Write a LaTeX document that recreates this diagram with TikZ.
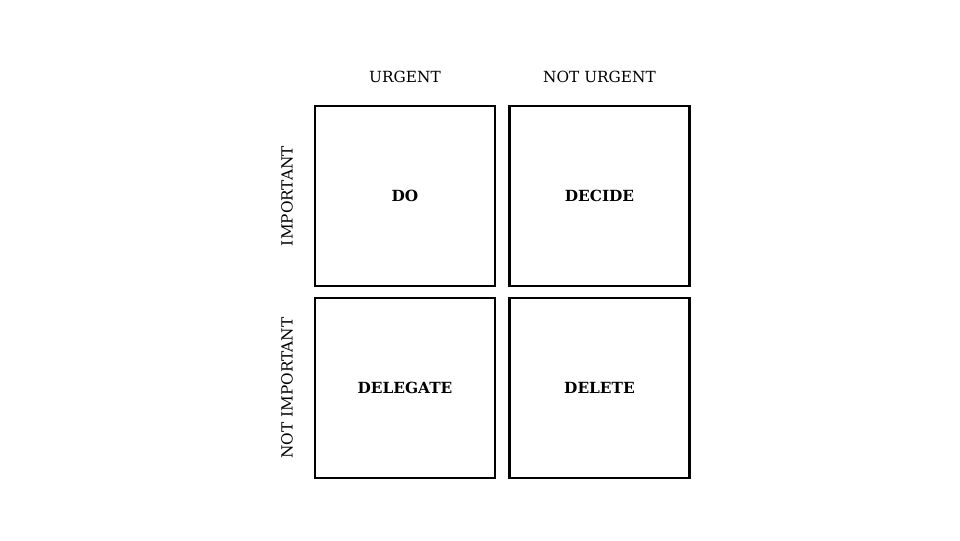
\documentclass[tikz,border=0pt]{standalone}
\usepackage{fontspec}
\setmainfont{DejaVu Serif}
\begin{document}
\begin{tikzpicture}[x=0.75pt,y=-0.75pt,
  box/.style={draw=black,line width=1.9pt,minimum width=135pt,minimum height=135pt,inner sep=0pt,font=\fontsize{11.5}{13}\selectfont\bfseries},
  lab/.style={font=\fontsize{11.5}{13}\selectfont,inner sep=0pt}]
\useasboundingbox (0,0) rectangle (960,540);
\node[box] (do) at (405,196) {DO};
\node[box] (decide) at (599.5,196) {DECIDE};
\node[box] (delegate) at (405,388) {DELEGATE};
\node[box] (delete) at (599.5,388) {DELETE};
\node[lab] (u) at (405,77) {URGENT};
\node[lab] (nu) at (599.5,77) {NOT URGENT};
\node[lab,rotate=90] (i) at (287,196) {IMPORTANT};
\node[lab,rotate=90] (ni) at (287,388) {NOT IMPORTANT};
\end{tikzpicture}
\end{document}
